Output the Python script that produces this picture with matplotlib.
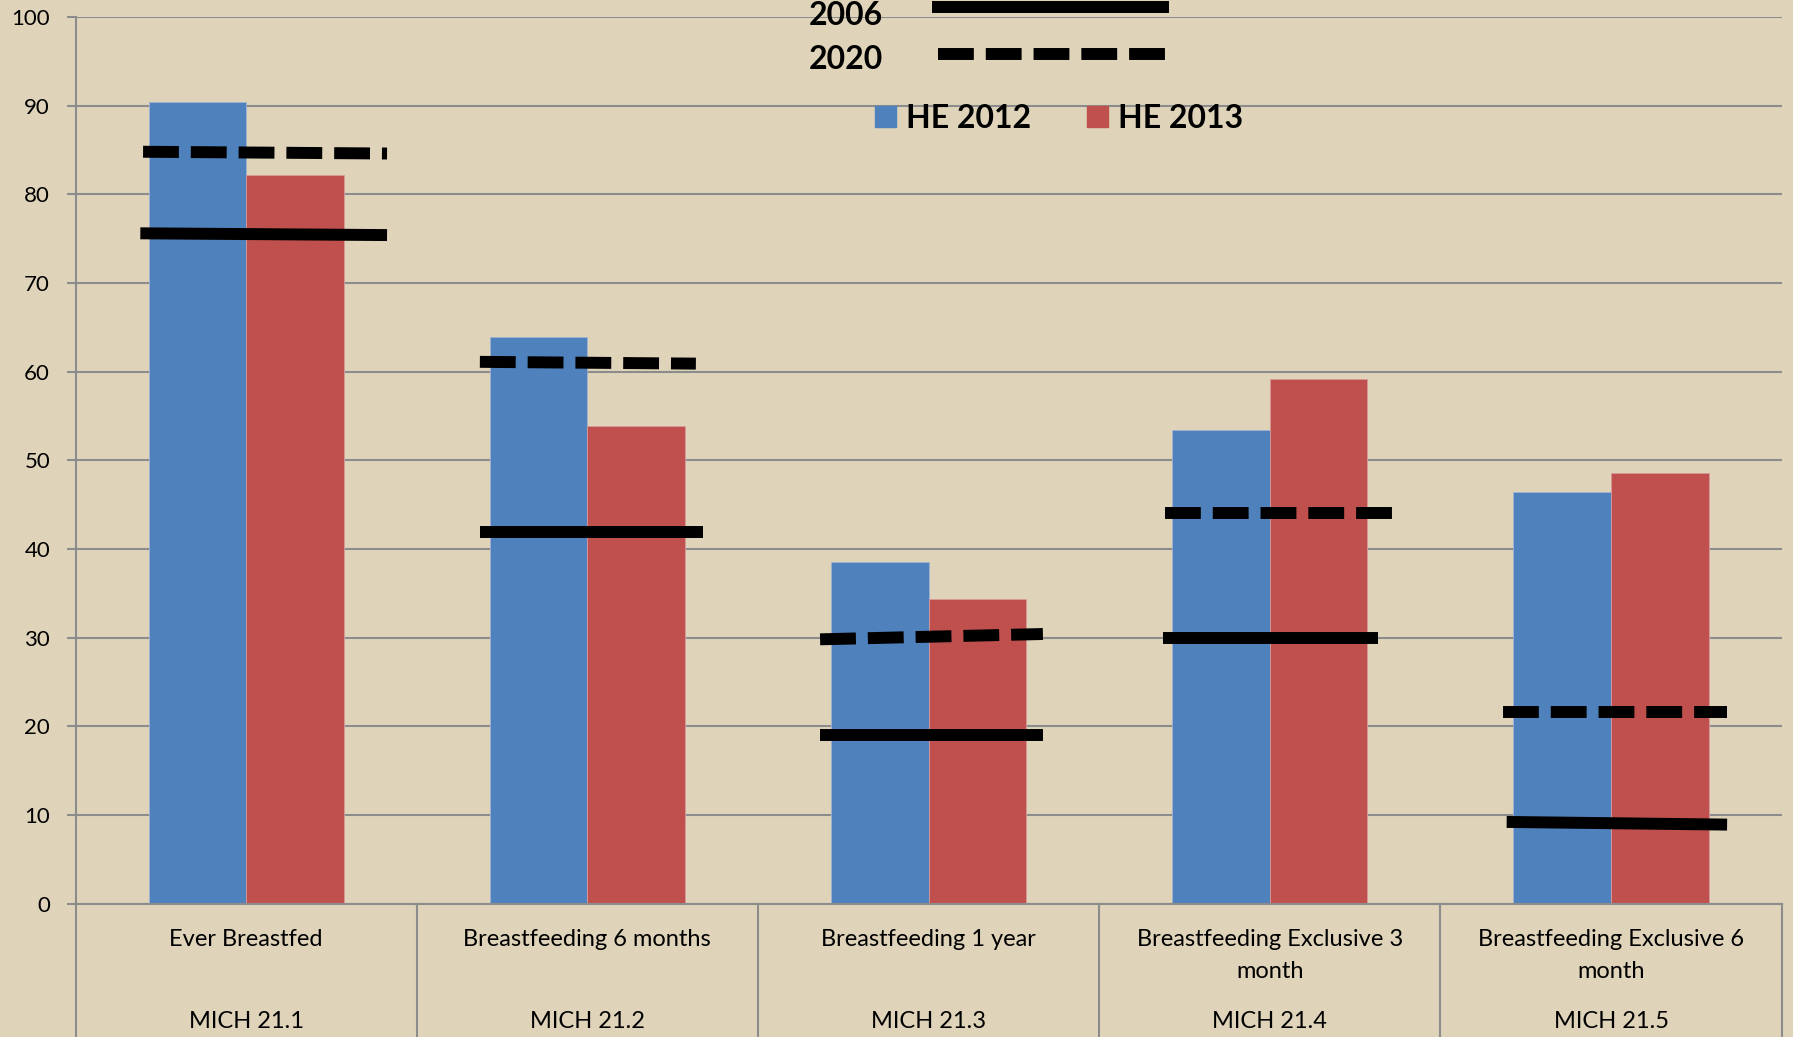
# -*- coding: utf-8 -*-
# Breastfeeding indicators: HE 2012 vs HE 2013 with 2006 baseline and 2020 targets
import matplotlib
matplotlib.use("Agg")
import matplotlib.pyplot as plt
import matplotlib.patches as mpatches
from matplotlib.lines import Line2D
from matplotlib.transforms import blended_transform_factory

plt.rcParams['font.family'] = ['Lato', 'DejaVu Sans']

# data
categories = ["Ever Breastfed", "Breastfeeding 6 months", "Breastfeeding 1 year",
              "Breastfeeding Exclusive 3\nmonth", "Breastfeeding Exclusive 6\nmonth"]
codes = ["MICH 21.1", "MICH 21.2", "MICH 21.3", "MICH 21.4", "MICH 21.5"]
he2012 = [90.4, 63.9, 38.5, 53.4, 46.4]
he2013 = [82.2, 53.9, 34.4, 59.2, 48.6]
# reference lines, value at left end / right end (hand drawn, slightly tilted)
base2006_left = [75.6, 41.9, 19.0, 30.0, 9.2]
base2006_right = [75.4, 41.9, 19.0, 30.0, 8.9]
target2020_left = [84.8, 61.1, 29.8, 44.05, 21.55]
target2020_right = [84.6, 60.9, 30.4, 44.05, 21.55]
yticks = list(range(0, 101, 10))

# layout of the hand drawn lines (offset from category centre)
solid_x0 = [-0.31, -0.315, -0.318, -0.314, -0.306]
solid_x1 = [0.413, 0.338, 0.335, 0.318, 0.34]
dash_x0 = [-0.302, -0.315, -0.318, -0.307, -0.317]
dash_x1 = [0.413, 0.318, 0.335, 0.361, 0.34]

W, H = 1793, 1037
BG = "#DFD4BA"
GRID = "#8C8C8C"
BLUE = "#4F81BD"
RED = "#C0504D"

fig = plt.figure(figsize=(W / 100, H / 100), dpi=100, facecolor=BG)
ax = fig.add_axes([75.5 / W, 1 - 903.5 / H, (1781.7 - 75.5) / W, (903.5 - 17) / H])
ax.set_facecolor(BG)

x = list(range(len(categories)))
bw = 0.286
ax.bar([i - bw / 2 for i in x], he2012, bw, color=BLUE, edgecolor="#9DB3D4", linewidth=0.6, zorder=2)
ax.bar([i + bw / 2 for i in x], he2013, bw, color=RED, edgecolor="#D89A98", linewidth=0.6, zorder=2)

lw = 8.6
for i in x:
    ax.plot([i + solid_x0[i], i + solid_x1[i]], [base2006_left[i], base2006_right[i]],
            color="black", lw=lw, solid_capstyle="butt", zorder=3)
    ax.plot([i + dash_x0[i], i + dash_x1[i]], [target2020_left[i], target2020_right[i]],
            color="black", lw=lw, linestyle=(0, (3, 1)), dash_capstyle="butt", zorder=3)

ax.set_xlim(-0.5, 4.5)
ax.set_ylim(0, 100)
ax.set_yticks(yticks)
ax.set_xticks([])
ax.yaxis.grid(True, color=GRID, lw=1.5)
ax.set_axisbelow(True)
for s in ["top", "right"]:
    ax.spines[s].set_visible(False)
for s in ["left", "bottom"]:
    ax.spines[s].set_color(GRID)
    ax.spines[s].set_linewidth(1.5)
ax.tick_params(axis="y", length=6.3, width=1.5, color=GRID, pad=12, labelsize=16, labelcolor="black")

# category boxes below the axis
trans = blended_transform_factory(ax.transData, ax.transAxes)
for b in [i - 0.5 for i in x] + [4.5]:
    ax.plot([b, b], [0, -0.2], color=GRID, lw=1.5, transform=trans, clip_on=False)

ax_h = 903.5 - 17
for i in x:
    for j, line in enumerate(categories[i].split("\n")):
        yb = 945.5 + 32 * j
        ax.text(i, (903.5 - yb) / ax_h, line, transform=trans, ha="center", va="baseline", fontsize=17)
    ax.text(i, (903.5 - 1028.5) / ax_h, codes[i], transform=trans, ha="center", va="baseline", fontsize=17)

# legend at the top
def fx(px):
    return px / W

def fy(py):
    return 1 - py / H

fig.text(fx(809), fy(25), "2006", fontsize=23, fontweight="bold", va="baseline")
fig.text(fx(809), fy(69), "2020", fontsize=23, fontweight="bold", va="baseline")
fig.add_artist(Line2D([fx(932), fx(1169)], [fy(7), fy(7)], color="black", lw=lw,
                      solid_capstyle="butt", transform=fig.transFigure))
fig.add_artist(Line2D([fx(938), fx(1166)], [fy(54), fy(54)], color="black", lw=lw,
                      linestyle=(0, (3, 1)), dash_capstyle="butt", transform=fig.transFigure))
for x0, col, lab in [(875, BLUE, "HE 2012"), (1087, RED, "HE 2013")]:
    fig.add_artist(mpatches.Rectangle((fx(x0), fy(127)), 21 / W, 21 / H, color=col,
                                      transform=fig.transFigure))
    fig.text(fx(x0 + 31), fy(128), lab, fontsize=23, fontweight="bold", va="baseline")

fig.savefig("out.png", dpi=100, facecolor=BG)
